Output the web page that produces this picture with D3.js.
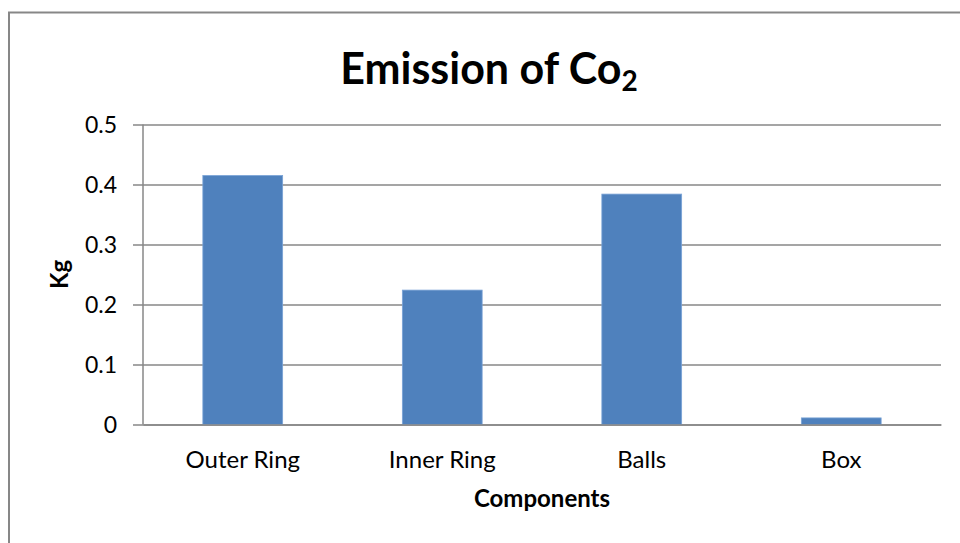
<!DOCTYPE html>
<html>
<head>
<meta charset="utf-8">
<script src="https://cdn.jsdelivr.net/npm/d3@7"></script>
<style>
  html, body { margin: 0; padding: 0; background: #fff; }
  svg { display: block; }
  text { font-family: Lato, "Open Sans", sans-serif; fill: #000; }
</style>
</head>
<body>
<script>
// CO2 emission per bearing component (kg)
const categories = ["Outer Ring", "Inner Ring", "Balls", "Box"];
const emissions = [0.415, 0.224, 0.384, 0.011];
const yTicks = [0, 0.1, 0.2, 0.3, 0.4, 0.5];

const W = 960, H = 543;
const plot = { left: 143, right: 941, top: 124.5, bottom: 424.5 };
const gridColor = "#878787";

const svg = d3.select("body").append("svg")
  .attr("width", W).attr("height", H);

// chart frame
svg.append("rect")
  .attr("x", 9).attr("y", 12.5)
  .attr("width", 990).attr("height", 560)
  .attr("fill", "#fff")
  .attr("stroke", gridColor).attr("stroke-width", 2);

const x = d3.scaleBand()
  .domain(categories)
  .range([plot.left, plot.right])
  .paddingInner(0.6).paddingOuter(0.3);

const y = d3.scaleLinear()
  .domain([0, 0.5])
  .range([plot.bottom, plot.top]);

// horizontal gridlines + y axis
const yAxis = d3.axisLeft(y)
  .tickValues(yTicks)
  .tickFormat(d => d === 0 ? "0" : d3.format(".1f")(d))
  .tickSize(-(plot.right - plot.left))
  .tickSizeOuter(0)
  .tickPadding(0);

const gy = svg.append("g")
  .attr("transform", `translate(${plot.left},0)`)
  .call(yAxis);
gy.select(".domain").remove();
gy.selectAll(".tick line")
  .attr("x1", -10)
  .attr("stroke", gridColor).attr("stroke-width", 1.5);
gy.selectAll(".tick text")
  .attr("x", -26)
  .attr("dy", "0.36em")
  .style("font-size", "23px")
  .style("font-family", "Lato, 'Open Sans', sans-serif")
  .attr("fill", "#000");

// vertical axis line
svg.append("line")
  .attr("x1", plot.left).attr("x2", plot.left)
  .attr("y1", y(0.5)).attr("y2", y(0))
  .attr("stroke", gridColor).attr("stroke-width", 1.5);

// bars
svg.append("g").selectAll("rect")
  .data(emissions)
  .join("rect")
  .attr("x", (d, i) => x(categories[i]))
  .attr("width", x.bandwidth())
  .attr("y", d => y(d))
  .attr("height", d => y(0) - y(d))
  .attr("fill", "#4F81BD")
  .attr("stroke", "#7aa3d6").attr("stroke-width", 0.8);

// category axis
const xAxis = d3.axisBottom(x).tickSize(0).tickSizeOuter(0).tickPadding(0);
const gx = svg.append("g")
  .attr("transform", `translate(0,${plot.bottom})`)
  .call(xAxis);
gx.select(".domain")
  .attr("stroke", gridColor).attr("stroke-width", 1.5);
gx.selectAll(".tick text")
  .attr("y", 43)
  .attr("dy", 0)
  .style("font-size", "24px")
  .style("font-family", "Lato, 'Open Sans', sans-serif")
  .attr("fill", "#000");

// axis titles
svg.append("text")
  .attr("x", (plot.left + plot.right) / 2)
  .attr("y", 507)
  .attr("text-anchor", "middle")
  .style("font-size", "24px").style("font-weight", "bold")
  .text("Components");

svg.append("text")
  .attr("transform", `translate(68,${(plot.top + plot.bottom) / 2}) rotate(-90)`)
  .attr("text-anchor", "middle")
  .style("font-size", "24px").style("font-weight", "bold")
  .text("Kg");

// chart title with subscript
const title = svg.append("text")
  .attr("x", 489).attr("y", 84)
  .attr("text-anchor", "middle")
  .style("font-size", "43px").style("font-weight", "bold");
title.append("tspan").text("Emission of Co");
title.append("tspan")
  .attr("dy", 7)
  .style("font-size", "28px")
  .text("2");
</script>
</body>
</html>
